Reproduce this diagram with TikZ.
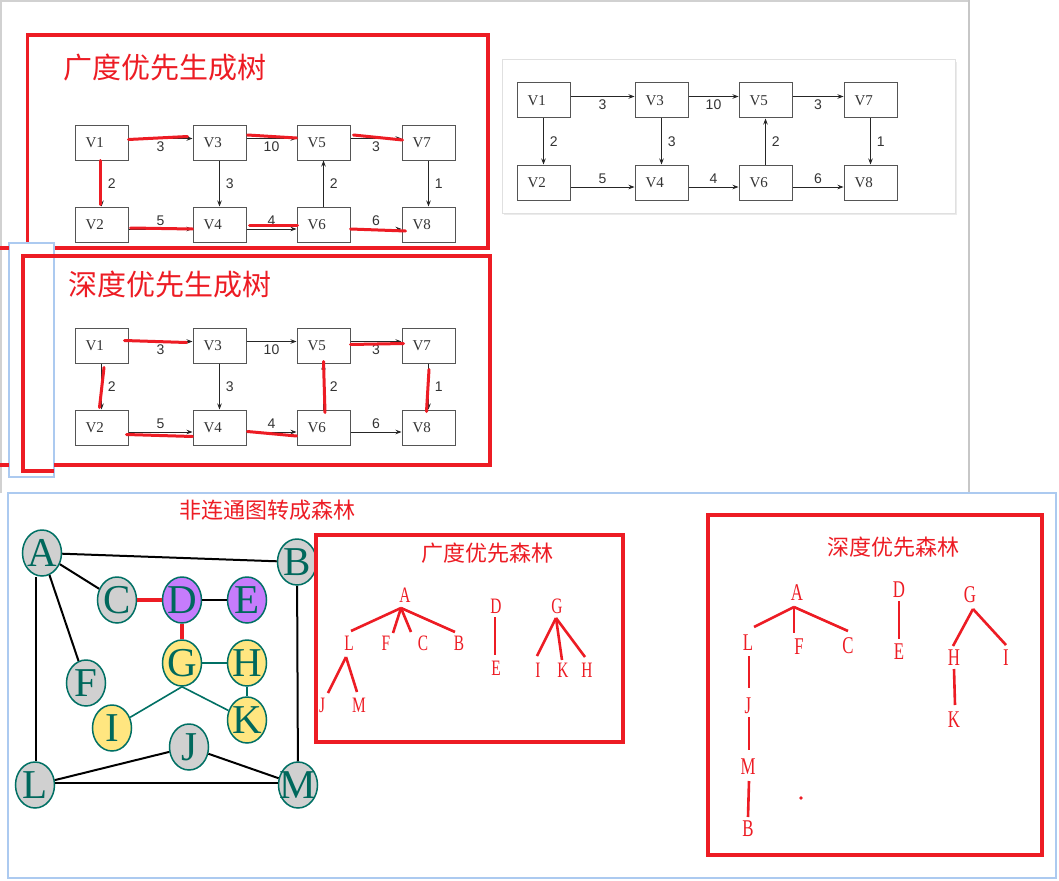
\documentclass[tikz,border=0pt]{standalone}
\usepackage{fontspec}
\usepackage{graphicx}
\setmainfont{Liberation Serif}
\newfontfamily\sansf{Liberation Sans}
\newfontfamily\cjkf{Noto Sans CJK SC}
\usetikzlibrary{arrows.meta,calc,shapes.geometric}
\definecolor{hred}{RGB}{237,28,36}
\definecolor{tealc}{RGB}{0,112,100}
\definecolor{tealt}{RGB}{0,104,92}
\definecolor{gfill}{RGB}{208,208,208}
\definecolor{pfill}{RGB}{198,124,252}
\definecolor{yfill}{RGB}{255,230,128}
\definecolor{lblue}{RGB}{172,202,240}
\definecolor{boxgray}{RGB}{85,85,85}
\newcommand\fl[1]{\scalebox{0.7}[1]{#1}}
\tikzset{
  vbox/.style={draw=boxgray, line width=1pt, minimum width=53pt, minimum height=35pt,
    inner sep=0pt, font=\fontsize{15}{15}\selectfont, text=black!80},
  varr/.style={draw=black!85, line width=0.8pt, -{Stealth[length=6pt,width=4.5pt]}},
  wlab/.style={font=\sansf\fontsize{14}{14}\selectfont, text=black!80, inner sep=1pt},
  hl/.style={draw=hred, line width=3pt, line cap=round},
  redframe/.style={draw=hred, line width=3.3pt},
  gvert/.style={ellipse, draw=tealc, line width=1.5pt, minimum width=39pt, minimum height=46pt, inner sep=0pt},
  gvl/.style={font=\fontsize{41}{41}\selectfont, text=tealt, inner sep=0pt},
  bedge/.style={draw=black, line width=2pt},
  tedge/.style={draw=tealc, line width=1.6pt},
  redge/.style={draw=hred, line width=3.6pt},
  fletb/.style={font=\fontsize{22}{22}\selectfont, text=hred, inner sep=0pt},
  fletd/.style={font=\fontsize{24}{24}\selectfont, text=hred, inner sep=0pt},
  fline/.style={draw=hred, line width=2.6pt},
  ftitle/.style={font=\cjkf\fontsize{22}{22}\selectfont, text=hred, inner sep=0pt},
}
\newcommand\vgraph[3]{%
  \begin{scope}[shift={(#2,#3)}]
    \node[vbox] (#1-1) at (26.5,17.5) {\makebox[32pt][l]{V1}};
    \node[vbox] (#1-3) at (144.5,17.5) {\makebox[32pt][l]{V3}};
    \node[vbox] (#1-5) at (248.5,17.5) {\makebox[32pt][l]{V5}};
    \node[vbox] (#1-7) at (353.5,17.5) {\makebox[32pt][l]{V7}};
    \node[vbox] (#1-2) at (26.5,99.5) {\makebox[32pt][l]{V2}};
    \node[vbox] (#1-4) at (144.5,99.5) {\makebox[32pt][l]{V4}};
    \node[vbox] (#1-6) at (248.5,99.5) {\makebox[32pt][l]{V6}};
    \node[vbox] (#1-8) at (353.5,99.5) {\makebox[32pt][l]{V8}};
  \end{scope}
  \draw[varr] ([yshift=4pt]#1-1.east) -- node[wlab,below=2pt]{3} ([yshift=4pt]#1-3.west);
  \draw[varr] ([yshift=4pt]#1-3.east) -- node[wlab,below=2pt]{10} ([yshift=4pt]#1-5.west);
  \draw[varr] ([yshift=4pt]#1-5.east) -- node[wlab,below=2pt]{3} ([yshift=4pt]#1-7.west);
  \draw[varr] ([yshift=-4.5pt]#1-2.east) -- node[wlab,above=2pt]{5} ([yshift=-4.5pt]#1-4.west);
  \draw[varr] ([yshift=-4.5pt]#1-4.east) -- node[wlab,above=2pt]{4} ([yshift=-4.5pt]#1-6.west);
  \draw[varr] ([yshift=-4.5pt]#1-6.east) -- node[wlab,above=2pt]{6} ([yshift=-4.5pt]#1-8.west);
  \draw[varr] (#1-1.south) -- node[wlab,right=5pt]{2} (#1-2.north);
  \draw[varr] (#1-3.south) -- node[wlab,right=5pt]{3} (#1-4.north);
  \draw[varr] (#1-6.north) -- node[wlab,right=5pt]{2} (#1-5.south);
  \draw[varr] (#1-7.south) -- node[wlab,right=5pt]{1} (#1-8.north);
}
\begin{document}
\begin{tikzpicture}[x=1pt,y=-1pt]
\useasboundingbox (0,0) rectangle (1059,880);
\fill[white] (0,0) rectangle (1059,880);
% top page
\draw[black!18, line width=1.2pt] (1,493) -- (1,1) -- (969,1);
\draw[black!22, line width=2pt] (969,0) -- (969,493);
% top-right panel
\fill[black!8] (504,62) rectangle (957,215);
\filldraw[fill=white, draw=black!12, line width=1pt] (502,60) rectangle (955,213);
\vgraph{c}{517}{83}
% box 1
\draw[redframe] (27.5,35) rectangle (488,248);
\node[font=\cjkf\fontsize{29}{29}\selectfont, text=hred, inner sep=0pt] (t1) at (165,68) {广度优先生成树};
\vgraph{a}{75}{125}
% left small panel
\filldraw[fill=white, draw=lblue, line width=1.2pt] (9,243) rectangle (54,477);
\draw[redframe] (0,248) -- (9,248);
\draw[redframe] (0,465) -- (9,465);
% box 2
\draw[redframe] (54,256) -- (23,256) -- (23,471) -- (54,471);
\draw[redframe] (54,256) -- (490,256) -- (490,465) -- (54,465);
\node[font=\cjkf\fontsize{29}{29}\selectfont, text=hred, inner sep=0pt] (t2) at (170,285) {深度优先生成树};
\vgraph{b}{75}{328}
% red overlays box 1
\draw[hl] ($(a-1.east)+(0,-3)$) -- ($(a-3.west)+(-5,-6)$);
\draw[hl] ($(a-3.east)+(1,-7.5)$) -- ($(a-5.west)+(0,-4.5)$);
\draw[hl] ($(a-5.east)+(3,-7.5)$) -- ($(a-7.west)+(1,-2.5)$);
\draw[hl] ($(a-1.south)+(-1,0)$) -- ($(a-2.north)+(-1,-2)$);
\draw[hl] ($(a-2.east)+(2,3.5)$) -- ($(a-4.west)+(0,4.5)$);
\draw[hl] ($(a-4.east)+(3,0.5)$) -- ($(a-6.west)+(1,0.5)$);
\draw[hl] ($(a-6.east)+(0,4.5)$) -- ($(a-8.west)+(4,6.5)$);
% red overlays box 2
\draw[hl] ($(b-1.east)+(-4,-5)$) -- ($(b-3.west)+(-6,-3)$);
\draw[hl] ($(b-1.south)+(2.5,4)$) -- ($(b-2.north)+(-2,-2)$);
\draw[hl] ($(b-2.east)+(-2,7)$) -- ($(b-4.west)+(0,9)$);
\draw[hl] ($(b-4.east)+(1,4)$) -- ($(b-6.west)+(0,8.5)$);
\draw[hl] ($(b-6.north)+(1.5,3)$) -- ($(b-5.south)+(0,-2)$);
\draw[hl] ($(b-5.east)+(0,-1)$) -- ($(b-7.west)+(2,-2)$);
\draw[hl] ($(b-7.south)+(0.5,6)$) -- ($(b-8.north)+(-2,2)$);
% bottom panel
\draw[lblue, line width=1.5pt] (8,493) rectangle (1056,878);
\node[ftitle] (t3) at (267,510) {非连通图转成森林};
% circle graph
\newcommand\gv[4]{\node[gvert, fill=#4, label={[gvl]center:#1}] (#1) at (#2,#3) {};}
\gv{A}{42}{553}{gfill}
\gv{B}{297}{562}{gfill}
\gv{C}{117}{600}{gfill}
\gv{D}{182}{600}{pfill}
\gv{E}{247}{600}{pfill}
\gv{F}{86}{683}{gfill}
\gv{G}{182}{663}{yfill}
\gv{H}{247}{663}{yfill}
\gv{I}{112}{728}{yfill}
\gv{K}{247}{720}{yfill}
\gv{J}{189}{747}{gfill}
\gv{L}{35}{785}{gfill}
\gv{M}{298}{785}{gfill}
\draw[bedge] (A) -- (B);
\draw[bedge] (A) -- (C);
\draw[bedge] (A) -- (F);
\draw[bedge] ($(A.south)+(-6,0)$) -- ($(L.north)+(1,0)$);
\draw[bedge] (B) -- (M);
\draw[bedge] ($(L.east)+(0,-2)$) -- ($(M.west)+(0,-2)$);
\draw[bedge] (L) -- (J);
\draw[bedge] (J) -- (M);
\draw[bedge] (D) -- (E);
\draw[redge] (C) -- (D);
\draw[redge] (D) -- (G);
\draw[tedge] (G) -- (H);
\draw[tedge] (H) -- (K);
\draw[tedge] (G.south) -- (I);
\draw[tedge] (G.south) -- (K);
% BFS forest
\draw[redframe] (316,535) rectangle (623,742);
\node[ftitle] (t4) at (487,553) {广度优先森林};
\node[fletb] (bA) at (405,595) {\fl{A}};
\node[fletb] (bL) at (349,643) {\fl{L}};
\node[fletb] (bF) at (386,643) {\fl{F}};
\node[fletb] (bC) at (423,643) {\fl{C}};
\node[fletb] (bB) at (459,643) {\fl{B}};
\node[fletb] (bJ) at (322,705) {\fl{J}};
\node[fletb] (bM) at (359,705) {\fl{M}};
\node[fletb] (bD) at (496,606) {\fl{D}};
\node[fletb] (bE) at (496,668) {\fl{E}};
\node[fletb] (bG) at (557,606) {\fl{G}};
\node[fletb] (bI) at (538,670) {\fl{I}};
\node[fletb] (bK) at (563,670) {\fl{K}};
\node[fletb] (bH) at (587,670) {\fl{H}};
\draw[fline] ($(bA)+(-4,13)$) -- ($(bL)+(2,-12)$);
\draw[fline] ($(bA)+(-4,13)$) -- ($(bF)+(7,-10)$);
\draw[fline] ($(bA)+(-4,13)$) -- ($(bC)+(-12,-11)$);
\draw[fline] ($(bA)+(-4,13)$) -- ($(bB)+(-4,-11)$);
\draw[fline] ($(bL)+(-3,14)$) -- ($(bJ)+(6,-12)$);
\draw[fline] ($(bL)+(-3,14)$) -- ($(bM)+(-2,-13)$);
\draw[fline] ($(bD)+(-1,11)$) -- ($(bE)+(-1,-13)$);
\draw[fline] ($(bG)+(-1,12)$) -- ($(bI)+(-1,-14)$);
\draw[fline] ($(bG)+(-1,12)$) -- ($(bK)+(-1,-10)$);
\draw[fline] ($(bG)+(-1,12)$) -- ($(bH)+(-2,-13)$);
% DFS forest
\draw[redframe] (708,515) rectangle (1042,855);
\node[ftitle] (t5) at (893,547) {深度优先森林};
\node[fletd] (dA) at (797,593) {\fl{A}};
\node[fletd] (dL) at (748,643) {\fl{L}};
\node[fletd] (dF) at (799,647) {\fl{F}};
\node[fletd] (dC) at (848,646) {\fl{C}};
\node[fletd] (dJ) at (748,706) {\fl{J}};
\node[fletd] (dM) at (748,767) {\fl{M}};
\node[fletd] (dB) at (748,829) {\fl{B}};
\node[fletd] (dD) at (899,590) {\fl{D}};
\node[fletd] (dE) at (899,652) {\fl{E}};
\node[fletd] (dG) at (970,595) {\fl{G}};
\node[fletd] (dH) at (954,658) {\fl{H}};
\node[fletd] (dI) at (1006,658) {\fl{I}};
\node[fletd] (dK) at (954,720) {\fl{K}};
\fill[hred] (801,798) circle (1.8);
\draw[fline] ($(dA)+(-3,14)$) -- ($(dL)+(6,-16)$);
\draw[fline] ($(dA)+(-3,14)$) -- ($(dF)+(-5,-14)$);
\draw[fline] ($(dA)+(-3,14)$) -- ($(dC)+(0,-15)$);
\draw[fline] ($(dL)+(1,13)$) -- ($(dJ)+(1,-18)$);
\draw[fline] ($(dJ)+(1,11)$) -- ($(dM)+(1,-17)$);
\draw[fline] ($(dM)+(1,14)$) -- ($(dB)+(0,-12)$);
\draw[fline] ($(dD)+(0,11)$) -- ($(dE)+(0,-13)$);
\draw[fline] ($(dG)+(3,14)$) -- ($(dH)+(-1,-12)$);
\draw[fline] ($(dG)+(3,14)$) -- ($(dI)+(0,-13)$);
\draw[fline] ($(dH)+(0,11)$) -- ($(dK)+(1,-15)$);
\end{tikzpicture}
\end{document}
